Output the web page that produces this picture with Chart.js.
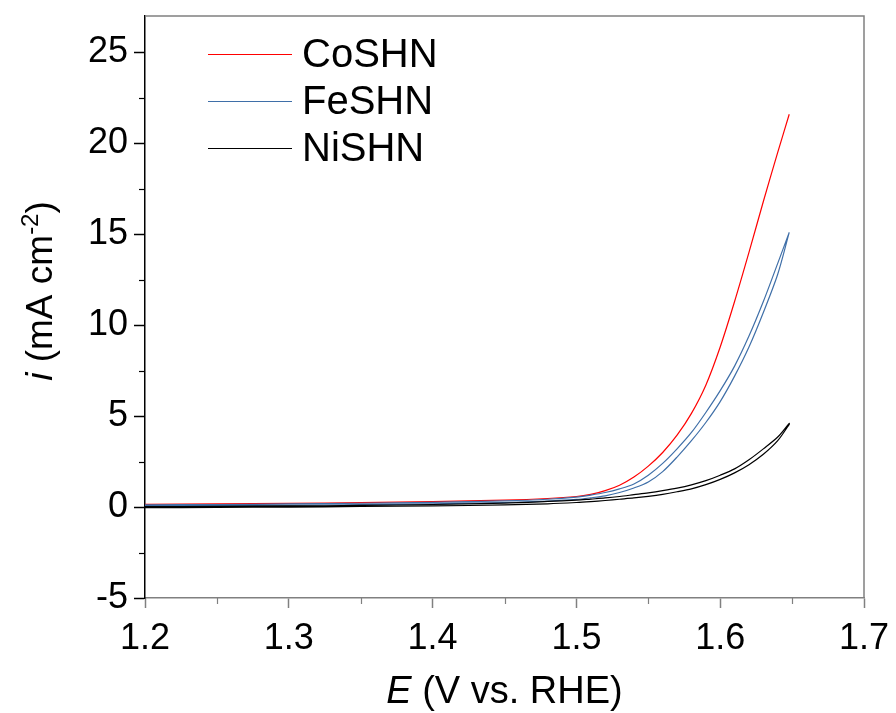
<!DOCTYPE html>
<html>
<head>
<meta charset="utf-8">
<script src="https://cdn.jsdelivr.net/npm/chart.js@4.4.1/dist/chart.umd.min.js"></script>
<style>
  html, body { margin: 0; padding: 0; background: #fff; }
  #wrap { width: 896px; height: 713px; }
</style>
</head>
<body>
<div id="wrap"><canvas id="cv" width="896" height="713"></canvas></div>
<script>
// Potential grid (V vs. RHE), shared by all scans
const POTENTIAL = [1.20, 1.25, 1.30, 1.35, 1.40, 1.45, 1.48, 1.50, 1.51, 1.52, 1.53, 1.54,
                   1.55, 1.56, 1.57, 1.58, 1.59, 1.60, 1.61, 1.62, 1.63, 1.64, 1.648];

// Current density (mA cm-2)
const COSHN      = [0.15, 0.17, 0.20, 0.24, 0.30, 0.38, 0.47, 0.58, 0.70, 0.90, 1.20, 1.65,
                    2.25, 3.00, 3.95, 5.15, 6.70, 8.80, 11.3, 14.0, 16.8, 19.5, 21.6];
const FESHN_FWD  = [0.12, 0.14, 0.17, 0.21, 0.26, 0.34, 0.43, 0.55, 0.66, 0.80, 1.00, 1.27,
                    1.75, 2.40, 3.20, 4.10, 5.20, 6.40, 7.75, 9.40, 11.3, 13.4, 15.1];
const FESHN_REV  = [0.06, 0.08, 0.10, 0.13, 0.18, 0.25, 0.33, 0.42, 0.51, 0.62, 0.80, 1.05,
                    1.38, 1.95, 2.75, 3.65, 4.65, 5.80, 7.20, 8.80, 10.7, 12.8, 15.1];
const NISHN_FWD  = [0.02, 0.04, 0.06, 0.09, 0.14, 0.22, 0.31, 0.38, 0.44, 0.50, 0.58, 0.68,
                    0.78, 0.90, 1.04, 1.22, 1.45, 1.75, 2.10, 2.60, 3.20, 3.85, 4.60];
const NISHN_REV  = [-0.03, -0.02, 0.00, 0.03, 0.06, 0.12, 0.18, 0.25, 0.30, 0.36, 0.43, 0.50,
                    0.59, 0.70, 0.84, 1.00, 1.23, 1.52, 1.88, 2.33, 2.90, 3.65, 4.55];

const SERIES_NAMES  = ["CoSHN", "FeSHN", "NiSHN"];
const SERIES_COLORS = ["#ff0000", "#3f6fa8", "#000000"];

const X_TICKS = [1.2, 1.3, 1.4, 1.5, 1.6, 1.7];
const Y_TICKS = [-5, 0, 5, 10, 15, 20, 25];

const FONT = '"Liberation Sans", Arial, sans-serif';
const AXIS_GRAY = "#808080";

const pts = (arr) => arr.map((y, k) => ({ x: POTENTIAL[k], y }));
// forward scan then back down the reverse scan
const loop = (fwd, rev) => pts(fwd).concat(pts(rev).reverse());

const lineSet = (label, data, color) => ({
  label, data,
  borderColor: color, backgroundColor: color,
  borderWidth: 1.2, pointRadius: 0, showLine: true, tension: 0.3, fill: false,
});

// minor ticks, frame, legend and axis titles
const decor = {
  id: "decor",
  afterDraw(chart) {
    const { ctx, chartArea: a, scales: { x, y } } = chart;
    ctx.save();
    // right and top frame lines
    ctx.strokeStyle = AXIS_GRAY;
    ctx.lineWidth = 1.5;
    ctx.beginPath();
    ctx.moveTo(a.left, a.top); ctx.lineTo(a.right, a.top); ctx.lineTo(a.right, a.bottom);
    ctx.stroke();

    // minor ticks
    ctx.lineWidth = 1.2;
    ctx.strokeStyle = AXIS_GRAY;
    for (let k = 0; k < X_TICKS.length - 1; k++) {
      const px = Math.round(x.getPixelForValue((X_TICKS[k] + X_TICKS[k + 1]) / 2)) + 0.5;
      ctx.beginPath(); ctx.moveTo(px, a.bottom); ctx.lineTo(px, a.bottom + 6); ctx.stroke();
    }
    ctx.strokeStyle = "#000";
    for (let k = 0; k < Y_TICKS.length - 1; k++) {
      const py = Math.round(y.getPixelForValue((Y_TICKS[k] + Y_TICKS[k + 1]) / 2)) + 0.5;
      ctx.beginPath(); ctx.moveTo(a.left - 6, py); ctx.lineTo(a.left, py); ctx.stroke();
    }

    // legend
    ctx.font = `40px ${FONT}`;
    ctx.textBaseline = "middle";
    ctx.textAlign = "left";
    SERIES_NAMES.forEach((name, k) => {
      const ly = 54 + k * 47;
      ctx.strokeStyle = SERIES_COLORS[k];
      ctx.lineWidth = 1.2;
      ctx.beginPath(); ctx.moveTo(208, ly + 0.5); ctx.lineTo(292, ly + 0.5); ctx.stroke();
      ctx.fillStyle = "#000";
      ctx.fillText(name, 302, ly + 2);
    });

    // x title: E (V vs. RHE)
    const mid = (a.left + a.right) / 2;
    ctx.fillStyle = "#000";
    ctx.textBaseline = "alphabetic";
    let italic = `italic 38px ${FONT}`, plain = `38px ${FONT}`;
    ctx.font = italic; const wE = ctx.measureText("E").width;
    ctx.font = plain;  const wR = ctx.measureText(" (V vs. RHE)").width;
    let sx = mid - (wE + wR) / 2;
    ctx.font = italic; ctx.fillText("E", sx, 703);
    ctx.font = plain;  ctx.fillText(" (V vs. RHE)", sx + wE, 703);

    // y title: i (mA cm-2)
    italic = `italic 37px ${FONT}`; plain = `37px ${FONT}`;
    ctx.translate(52, 291);
    ctx.rotate(-Math.PI / 2);
    ctx.font = italic; const wi = ctx.measureText("i").width;
    ctx.font = plain;  const w1 = ctx.measureText(" (mA cm").width;
    const sup = `24px ${FONT}`;
    ctx.font = sup;    const w2 = ctx.measureText("-2").width;
    ctx.font = plain;  const w3 = ctx.measureText(")").width;
    sx = -(wi + w1 + w2 + w3) / 2;
    ctx.font = italic; ctx.fillText("i", sx, 0); sx += wi;
    ctx.font = plain;  ctx.fillText(" (mA cm", sx, 0); sx += w1;
    ctx.font = sup;    ctx.fillText("-2", sx, -14); sx += w2;
    ctx.font = plain;  ctx.fillText(")", sx, 0);
    ctx.restore();
  },
};

new Chart(document.getElementById("cv"), {
  type: "scatter",
  data: {
    datasets: [
      lineSet("NiSHN", loop(NISHN_FWD, NISHN_REV), SERIES_COLORS[2]),
      lineSet("FeSHN", loop(FESHN_FWD, FESHN_REV), SERIES_COLORS[1]),
      lineSet("CoSHN", pts(COSHN), SERIES_COLORS[0]),
    ],
  },
  options: {
    responsive: false, animation: false,
    layout: { padding: { top: 16, right: 32, left: 0, bottom: 0 } },
    plugins: { legend: { display: false }, tooltip: { enabled: false } },
    scales: {
      x: {
        type: "linear", min: 1.2, max: 1.7,
        afterBuildTicks: s => { s.ticks = X_TICKS.map(v => ({ value: v })); },
        afterFit: s => { s.height = 115; s.paddingLeft = 0; s.paddingRight = 0; },
        grid: { drawOnChartArea: false, drawTicks: true, tickLength: 10,
                tickColor: AXIS_GRAY, tickWidth: 1.5 },
        border: { display: true, color: AXIS_GRAY, width: 1.5 },
        ticks: { color: "#000", font: { family: FONT, size: 36 }, padding: 9,
                 maxRotation: 0, callback: v => v.toFixed(1) },
      },
      y: {
        type: "linear", min: -5, max: 27,
        afterBuildTicks: s => { s.ticks = Y_TICKS.map(v => ({ value: v })); },
        afterFit: s => { s.width = 145; s.paddingTop = 0; s.paddingBottom = 0; },
        grid: { drawOnChartArea: false, drawTicks: true, tickLength: 11,
                tickColor: "#000", tickWidth: 1.5 },
        border: { display: true, color: "#000", width: 1.5 },
        ticks: { color: "#000", font: { family: FONT, size: 36 }, padding: 6 },
      },
    },
  },
  plugins: [decor],
});
</script>
</body>
</html>
